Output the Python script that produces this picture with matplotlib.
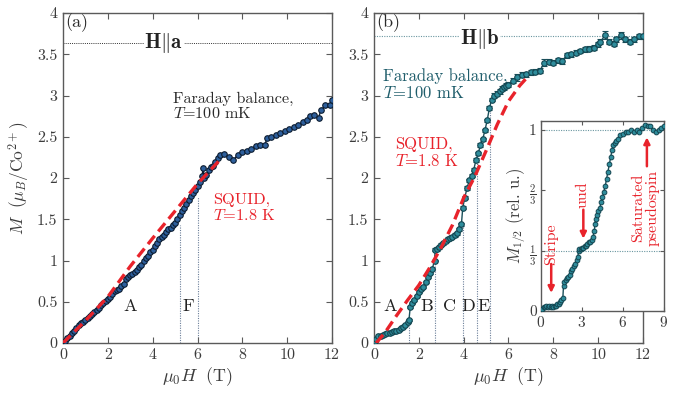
import numpy as np
import matplotlib
matplotlib.use('Agg')
import matplotlib.pyplot as plt
from matplotlib.ticker import FuncFormatter

plt.rcParams.update({
    'font.family': 'serif', 'font.serif': ['cmr10'], 'mathtext.fontset': 'cm',
    'axes.unicode_minus': False, 'axes.formatter.use_mathtext': True,
})

# ---------------- data ----------------
# Panel (a): H || a, Faraday balance T = 100 mK
a_field = [0.0, 0.1, 0.2, 0.3, 0.4, 0.5, 0.6, 0.7, 0.8, 0.9, 1.0, 1.1, 1.2, 1.3, 1.4, 1.5,
           1.6, 1.7, 1.8, 1.9, 2.0, 2.1, 2.2, 2.3, 2.4, 2.5, 2.6, 2.7, 2.8, 2.9, 3.0, 3.1,
           3.2, 3.3, 3.4, 3.5, 3.6, 3.7, 3.8, 3.9, 4.0, 4.1, 4.2, 4.3, 4.4, 4.5, 4.6, 4.7,
           4.8, 4.9, 5.0, 5.1, 5.2, 5.3, 5.4, 5.5, 5.6, 5.7, 5.8, 5.9, 6.0, 6.1, 6.2, 6.25,
           6.3, 6.4, 6.5, 6.6, 6.7, 6.8, 6.9, 7.0, 7.2, 7.4, 7.6, 7.8, 8.0, 8.2, 8.4, 8.6,
           8.8, 9.0, 9.1, 9.3, 9.5, 9.7, 9.9, 10.1, 10.3, 10.5, 10.7, 10.9, 11.0, 11.2, 11.4,
           11.5, 11.7, 11.9, 12.0]
a_mag = [0.00, 0.03, 0.06, 0.09, 0.12, 0.15, 0.18, 0.22, 0.24, 0.26, 0.28, 0.30, 0.33, 0.35, 0.37, 0.40,
         0.43, 0.46, 0.49, 0.51, 0.53, 0.56, 0.59, 0.63, 0.64, 0.66, 0.69, 0.72, 0.77, 0.80, 0.82, 0.84,
         0.86, 0.89, 0.92, 0.95, 0.99, 1.03, 1.06, 1.10, 1.13, 1.17, 1.21, 1.26, 1.29, 1.31, 1.35, 1.38,
         1.40, 1.43, 1.46, 1.50, 1.55, 1.60, 1.64, 1.69, 1.73, 1.78, 1.82, 1.86, 1.90, 1.95, 2.02, 2.12,
         2.00, 2.04, 2.10, 2.13, 2.15, 2.20, 2.24, 2.28, 2.29, 2.26, 2.22, 2.28, 2.31, 2.33, 2.35, 2.39,
         2.40, 2.40, 2.48, 2.50, 2.52, 2.55, 2.57, 2.59, 2.62, 2.64, 2.68, 2.70, 2.75, 2.76, 2.73,
         2.82, 2.88, 2.89, 2.94]
# Panel (a): SQUID T = 1.8 K
a_squid_field = [0.0, 1.0, 2.0, 3.0, 4.0, 5.0, 6.0, 7.0]
a_squid_mag = [0.00, 0.27, 0.56, 0.93, 1.27, 1.60, 1.93, 2.22]
a_sat = 3.64
a_vlines = [5.2, 6.0]
a_vtops = [1.43, 1.77]
a_phase_labels = ['A', 'F']
a_phase_x = [3.0, 5.6]

# Panel (b): H || b, Faraday balance T = 100 mK
b_field = [0.0, 0.05, 0.1, 0.2, 0.3, 0.4, 0.5, 0.6, 0.7, 0.8, 0.9, 1.0, 1.1, 1.2, 1.3, 1.4, 1.5, 1.56,
           1.62, 1.7, 1.8, 1.9, 2.0, 2.1, 2.2, 2.3, 2.4, 2.5, 2.6, 2.7,
           2.73, 2.8, 2.9, 3.0, 3.1, 3.2, 3.3, 3.4, 3.5, 3.6, 3.7, 3.8, 3.9,
           3.96, 4.05, 4.15, 4.25, 4.35, 4.45, 4.55, 4.65, 4.75, 4.85, 4.95, 5.05, 5.15, 5.25, 5.35,
           5.5, 5.6, 5.7, 5.8, 5.9, 6.0, 6.2, 6.4, 6.6, 6.8, 7.0, 7.2, 7.4, 7.6, 7.8, 8.0, 8.2, 8.4,
           8.6, 8.8, 9.0, 9.2, 9.4,
           9.6, 9.8, 10.0, 10.1, 10.3, 10.5, 10.7, 10.8, 11.0, 11.2, 11.4, 11.6, 11.8, 12.0]
b_mag = [0.00, 0.02, 0.05, 0.08, 0.09, 0.10, 0.11, 0.12, 0.12, 0.13, 0.14, 0.15, 0.16, 0.18, 0.20, 0.22, 0.25, 0.28,
         0.44, 0.48, 0.52, 0.57, 0.62, 0.65, 0.68, 0.74, 0.80, 0.85, 0.90, 1.00,
         1.13, 1.14, 1.16, 1.19, 1.21, 1.24, 1.26, 1.27, 1.29, 1.31, 1.33, 1.38, 1.44,
         1.64, 1.76, 1.88, 1.97, 2.03, 2.10, 2.22, 2.30, 2.40, 2.47, 2.58, 2.70, 2.85, 2.95, 3.00,
         3.02, 3.05, 3.08, 3.10, 3.12, 3.13, 3.18, 3.22, 3.25, 3.26, 3.28, 3.29, 3.30, 3.40, 3.41, 3.40, 3.43, 3.42,
         3.49, 3.50, 3.52, 3.54, 3.56,
         3.57, 3.58, 3.62, 3.65, 3.73, 3.65, 3.63, 3.68, 3.73, 3.68, 3.65, 3.68, 3.72, 3.72]
b_err = [0.01, 0.01, 0.01, 0.01, 0.01, 0.01, 0.01, 0.01, 0.01, 0.01, 0.01, 0.01, 0.01, 0.01, 0.01, 0.01, 0.01, 0.01,
         0.01, 0.01, 0.01, 0.01, 0.01, 0.01, 0.01, 0.01, 0.01, 0.01, 0.01, 0.01,
         0.02, 0.02, 0.02, 0.02, 0.02, 0.02, 0.02, 0.02, 0.02, 0.02, 0.02, 0.02, 0.02,
         0.02, 0.02, 0.02, 0.02, 0.02, 0.02, 0.02, 0.02, 0.02, 0.02, 0.02, 0.02, 0.02, 0.02, 0.03,
         0.03, 0.03, 0.03, 0.03, 0.03, 0.03, 0.03, 0.04, 0.03, 0.03, 0.03, 0.03, 0.03, 0.04, 0.03, 0.03, 0.03, 0.04,
         0.03, 0.03, 0.03, 0.03, 0.03,
         0.03, 0.03, 0.03, 0.03, 0.05, 0.03, 0.03, 0.03, 0.04, 0.03, 0.03, 0.03, 0.03, 0.03]
# Panel (b): SQUID T = 1.8 K
b_squid_field = [0.1, 0.5, 1.0, 1.5, 2.0, 2.5, 3.0, 3.5, 4.0, 4.5, 5.0, 5.5, 6.0, 6.5, 6.9]
b_squid_mag = [0.00, 0.13, 0.33, 0.52, 0.70, 0.92, 1.16, 1.43, 1.76, 2.02, 2.33, 2.65, 2.93, 3.12, 3.24]
b_sat = 3.72
b_vlines = [1.57, 2.72, 3.98, 4.58, 5.17]
b_vtops = [0.28, 1.03, 1.45, 2.32, 2.92]
b_phase_labels = ['A', 'B', 'C', 'D', 'E']
b_phase_x = [0.72, 2.36, 3.35, 4.2, 4.9]

# Inset: M_1/2 (rel. u.)
i_field = [0.0, 0.1, 0.2, 0.3, 0.4, 0.5, 0.6, 0.7, 0.8, 0.9, 1.0, 1.1, 1.2, 1.3, 1.4, 1.5, 1.6,
           1.65, 1.7, 1.8, 1.9, 2.0, 2.1, 2.2, 2.3, 2.4, 2.5, 2.6, 2.7,
           2.75, 2.8, 2.9, 3.0, 3.1, 3.2, 3.3, 3.4, 3.5, 3.6, 3.7, 3.8, 3.9,
           3.95, 4.0, 4.1, 4.2, 4.3, 4.4, 4.5, 4.6, 4.7, 4.8, 4.9, 5.0, 5.1, 5.2, 5.3, 5.4, 5.5, 5.6,
           5.8, 6.0, 6.2, 6.4, 6.6, 6.8, 7.0, 7.2, 7.4, 7.6, 7.8, 8.0, 8.2, 8.4, 8.6, 8.8, 9.0]
i_mag = [0.00, 0.01, 0.02, 0.02, 0.03, 0.02, 0.03, 0.02, 0.03, 0.02, 0.03, 0.03, 0.04, 0.04, 0.05, 0.06, 0.07,
         0.14, 0.16, 0.17, 0.18, 0.19, 0.20, 0.22, 0.23, 0.25, 0.26, 0.28, 0.30,
         0.33, 0.34, 0.34, 0.35, 0.35, 0.36, 0.36, 0.37, 0.38, 0.38, 0.39, 0.41, 0.44,
         0.48, 0.51, 0.53, 0.55, 0.57, 0.60, 0.63, 0.66, 0.69, 0.73, 0.77, 0.81, 0.85, 0.89, 0.92, 0.93, 0.94, 0.95,
         0.97, 0.98, 0.99, 0.99, 1.00, 0.99, 1.00, 0.99, 1.01, 1.03, 1.02, 1.02, 1.00, 0.99, 1.00, 1.01, 1.02]

# ---------------- styling ----------------
RED = '#e8232b'
SPINE = '#5a5a5a'
TICKC = '#3c3c3c'
A_FACE, A_EDGE, A_LINE = '#2d5f9c', '#0c1c30', '#0c1c30'
B_FACE, B_EDGE, B_LINE = '#2f8d9c', '#134550', '#1a4f5a'

fig = plt.figure(figsize=(6.9, 3.96), dpi=100)
axa = fig.add_axes([0.0913, 0.1338, 0.3899, 0.8333])
axb = fig.add_axes([0.542, 0.1338, 0.3899, 0.8333])
axi = fig.add_axes([0.784, 0.2146, 0.1783, 0.4798])

fmt = FuncFormatter(lambda v, p: ('%g' % v))


def style(ax, fs=11):
    for s in ax.spines.values():
        s.set_color(SPINE)
        s.set_linewidth(1.0)
    ax.tick_params(direction='in', top=True, right=True, length=4, width=0.8,
                   color=SPINE, labelcolor=TICKC, labelsize=fs, pad=4)


for ax in (axa, axb):
    style(ax, 11.5)
    ax.set_xlim(0, 12)
    ax.set_ylim(0, 4)
    ax.set_xticks(np.arange(0, 13, 2))
    ax.set_yticks(np.arange(0, 4.01, 0.5))
    ax.xaxis.set_major_formatter(fmt)
    ax.yaxis.set_major_formatter(fmt)
    ax.set_xlabel(r'$\mu_0 H\ \ (\mathrm{T})$', fontsize=13, color=TICKC, labelpad=2)

axa.set_ylabel(r'$M\ \ (\mu_B/\mathrm{Co}^{2+})$', fontsize=12.5, color=TICKC, labelpad=4)

# ---- panel (a)
axa.axhline(a_sat, color='#333333', ls=(0, (1, 1.2)), lw=0.7, zorder=1)
for xv, tv in zip(a_vlines, a_vtops):
    axa.plot([xv, xv], [0, tv], color='#6b7f99', ls=(0, (1, 1.2)), lw=0.8, zorder=1)
axa.plot(a_field, a_mag, '-o', color=A_LINE, lw=1.0, ms=4.0, mfc=A_FACE, mec=A_EDGE, mew=0.8, zorder=3)
axa.plot(a_squid_field, a_squid_mag, color=RED, lw=2.4, ls=(0, (3.2, 1.7)), zorder=4)
axa.text(0.12, 3.88, '(a)', fontsize=13, color='#2a2a2a', va='center', ha='left')
axa.text(4.5, a_sat, r'$\mathbf{H}\Vert\mathbf{a}$', fontsize=15, ha='center', va='center',
         color='#222222', bbox=dict(fc='white', ec='none', pad=0.5), zorder=2)
axa.text(4.9, 2.87, 'Faraday balance,\n' + r'$T$=100 mK', fontsize=11.6, color='#2a2a2a',
         ha='left', va='center', linespacing=1.05)
axa.text(6.7, 1.64, 'SQUID,\n' + r'$T$=1.8 K', fontsize=11.8, color=RED,
         ha='left', va='center', linespacing=1.05)
for lab, xv in zip(a_phase_labels, a_phase_x):
    axa.text(xv, 0.44, lab, fontsize=13, ha='center', va='center', color='#222222')

# ---- panel (b)
axb.axhline(b_sat, color='#6a96a0', ls=(0, (1, 1.2)), lw=0.8, zorder=1)
for xv, tv in zip(b_vlines, b_vtops):
    axb.plot([xv, xv], [0, tv], color='#6b7f99', ls=(0, (1, 1.2)), lw=0.8, zorder=1)
axb.errorbar(b_field, b_mag, yerr=b_err, fmt='-o', color=B_LINE, ecolor=B_LINE, elinewidth=0.8,
             capsize=2, capthick=0.8, lw=1.0, ms=4.0, mfc=B_FACE, mec=B_EDGE, mew=0.8, zorder=3)
axb.plot(b_squid_field, b_squid_mag, color=RED, lw=2.4, ls=(0, (3.2, 1.7)), zorder=4)
axb.text(0.12, 3.88, '(b)', fontsize=13, color='#2a2a2a', va='center', ha='left')
axb.text(4.7, b_sat - 0.04, r'$\mathbf{H}\Vert\mathbf{b}$', fontsize=15, ha='center', va='center',
         color='#222222', bbox=dict(fc='white', ec='none', pad=0.5), zorder=2)
axb.text(0.4, 3.13, 'Faraday balance,\n' + r'$T$=100 mK', fontsize=12, color='#1f5d6b',
         ha='left', va='center', linespacing=1.05)
axb.text(0.95, 2.31, 'SQUID,\n' + r'$T$=1.8 K', fontsize=12, color=RED,
         ha='left', va='center', linespacing=1.05)
for lab, xv in zip(b_phase_labels, b_phase_x):
    axb.text(xv, 0.44, lab, fontsize=13, ha='center', va='center', color='#222222')

# ---- inset
style(axi, 11)
axi.set_facecolor('white')
axi.set_zorder(5)
axi.set_xlim(0, 9)
axi.set_ylim(0, 1.05)
axi.set_xticks([0, 3, 6, 9])
axi.set_yticks([0, 1 / 3, 2 / 3, 1])
axi.set_yticklabels(['0', r'$\frac{1}{3}$', r'$\frac{2}{3}$', '1'])
axi.tick_params(length=3, pad=3)
axi.axhline(1.0, color='#6a96a0', ls=(0, (1, 1.2)), lw=0.8, zorder=1)
axi.axhline(1 / 3, color='#6a96a0', ls=(0, (1, 1.2)), lw=0.8, zorder=1)
axi.plot(i_field, i_mag, '-o', color=B_LINE, lw=1.0, ms=3.4, mfc=B_FACE, mec=B_EDGE, mew=0.7, zorder=3)
axi.set_ylabel(r'$M_{1/2}$ (rel. u.)', fontsize=12, color=TICKC, labelpad=1)

arr = dict(arrowstyle='-|>', color=RED, lw=1.8, mutation_scale=9, shrinkA=0, shrinkB=0)
axi.annotate('', xy=(0.75, 0.1), xytext=(0.75, 0.26), arrowprops=arr)
axi.text(0.72, 0.37, 'Stripe', rotation=90, fontsize=11.5, color=RED, ha='center', va='center')
axi.annotate('', xy=(3.1, 0.40), xytext=(3.1, 0.56), arrowprops=arr)
axi.text(3.05, 0.64, 'uud', rotation=90, fontsize=11.5, color=RED, ha='center', va='center')
axi.annotate('', xy=(7.75, 0.96), xytext=(7.75, 0.80), arrowprops=arr)
axi.text(7.65, 0.57, 'Saturated\npseudospin', rotation=90, fontsize=11.5, color=RED,
         ha='center', va='center', linespacing=1.0)

fig.savefig('out.png', dpi=100)
